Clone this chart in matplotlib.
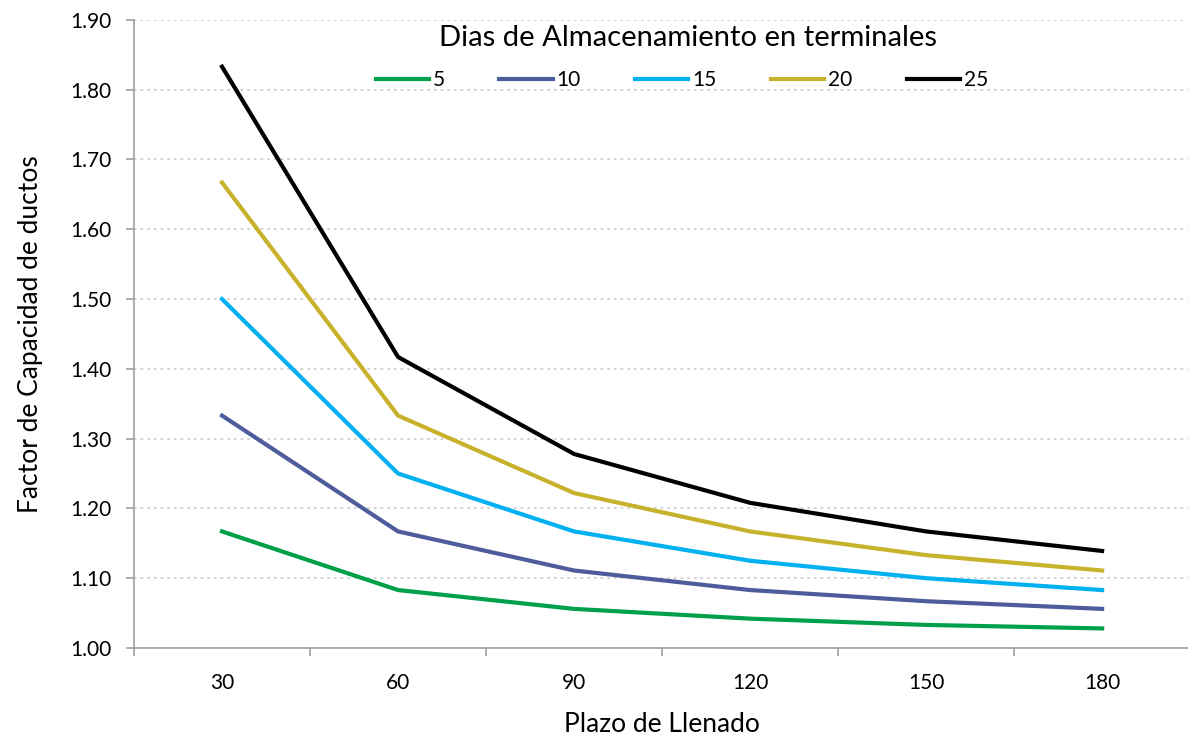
import numpy as np
import matplotlib
matplotlib.use("Agg")
from matplotlib import pyplot as plt

plt.rcParams['font.family'] = ['Lato', 'DejaVu Sans']

plazos = ["30", "60", "90", "120", "150", "180"]
dias = ["5", "10", "15", "20", "25"]
f5  = [1.167, 1.083, 1.056, 1.042, 1.033, 1.028]
f10 = [1.333, 1.167, 1.111, 1.083, 1.067, 1.056]
f15 = [1.500, 1.250, 1.167, 1.125, 1.100, 1.083]
f20 = [1.667, 1.333, 1.222, 1.167, 1.133, 1.111]
f25 = [1.833, 1.417, 1.278, 1.208, 1.167, 1.139]
colores = ["#00A04A", "#4E5C9C", "#00B0F0", "#C8B22C", "#000000"]

fig = plt.figure(figsize=(11.88, 7.38), dpi=100)
ax = fig.add_axes([0.1128, 0.122, 0.889, 0.851])

x = np.arange(len(plazos))
for serie, lab, c in zip([f5, f10, f15, f20, f25], dias, colores):
    ax.plot(x, serie, color=c, lw=3, label=lab)

ax.set_xlim(-0.5, len(plazos) - 0.5)
ax.set_ylim(1.0, 1.9)
yt = np.arange(1.0, 1.91, 0.1)
ax.set_yticks(yt)
ax.set_yticklabels(["%.2f" % v for v in yt])
ax.set_xticks(x)
ax.set_xticklabels(plazos)
ax.set_xticks(np.arange(-0.5, len(plazos), 1), minor=True)
ax.tick_params(axis='x', which='major', length=0, pad=18, labelsize=15)
ax.tick_params(axis='x', which='minor', length=6, color="#A0A0A0", width=1.2)
ax.tick_params(axis='y', length=6, color="#A0A0A0", width=1.2, labelsize=15, pad=10)
ax.grid(axis='y', ls=(0, (1.5, 2.5)), color="#C8C8C8", lw=1.2)
ax.set_axisbelow(True)
for s in ["top", "right"]:
    ax.spines[s].set_visible(False)
for s in ["left", "bottom"]:
    ax.spines[s].set_color("#A0A0A0")
    ax.spines[s].set_linewidth(1.2)

ax.set_xlabel("Plazo de Llenado", fontsize=19, labelpad=14)
ax.set_ylabel("Factor de Capacidad de ductos", fontsize=19, labelpad=20)

fig.text(688 / 1188, 1 - 38 / 738, "Dias de Almacenamiento en terminales",
         fontsize=21, ha="center", va="center")
ax.legend(ncol=5, frameon=False, loc="center",
          bbox_to_anchor=(682 / 1188, 1 - 80 / 738), bbox_transform=fig.transFigure,
          fontsize=15, handlelength=2.55, columnspacing=2.6, handletextpad=0.2,
          borderpad=0)

fig.savefig("out.png", dpi=100)
